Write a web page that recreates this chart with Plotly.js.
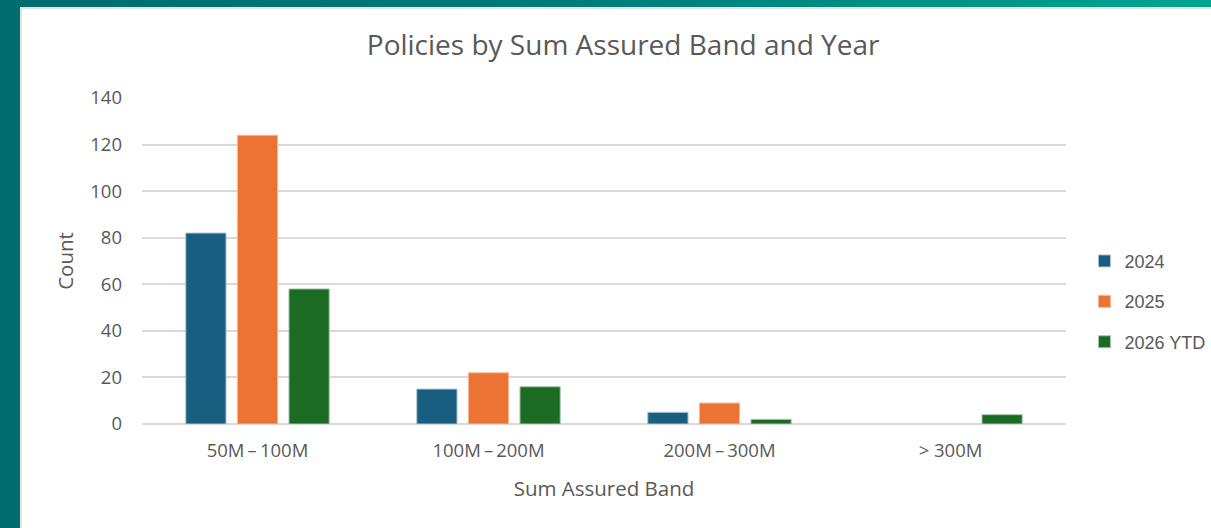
<!DOCTYPE html>
<html>
<head>
<meta charset="utf-8">
<script src="https://cdn.plot.ly/plotly-3.0.1.min.js"></script>
<style>
  html, body { margin: 0; padding: 0; width: 1211px; height: 528px; overflow: hidden; }
  body { background: linear-gradient(90deg, #006c6e 0%, #007a78 45%, #00a590 100%); position: relative; }
  #panel { position: absolute; left: 20px; top: 7px; width: 1191px; height: 521px; background: #ffffff;
           border-left: 2px solid #e3e3e3; border-top: 2px solid #e3e3e3; box-sizing: border-box; }
  #chart { position: absolute; left: 21px; top: 9px; width: 1190px; height: 519px; }
</style>
</head>
<body>
<div id="panel"></div>
<div id="chart"></div>
<script>
// Sum assured bands on the category axis
const bands = ["50M\u2009\u2013\u2009100M", "100M\u2009\u2013\u2009200M", "200M\u2009\u2013\u2009300M", "> 300M"];

// Policy counts per band
const count2024 = [82, 15, 5, 0];
const count2025 = [124, 22, 9, 0];
const count2026ytd = [58, 16, 2, 4];

const seriesNames = ["2024", "2025", "2026 YTD"];
const seriesColors = ["#175e80", "#eb7434", "#1c6b24"];
const seriesEdges = ["#a9c3d2", "#f6b996", "#a7c6aa"];
const seriesValues = [count2024, count2025, count2026ytd];

const traces = seriesValues.map((vals, i) => ({
  type: "bar",
  name: seriesNames[i],
  legendgroup: "g" + i,
  x: bands,
  y: vals,
  marker: {
    color: seriesColors[i],
    // no outline on empty bars, so a zero count leaves nothing on the baseline
    line: { color: seriesEdges[i], width: vals.map(v => (v > 0 ? 1 : 0)) }
  },
  hoverinfo: "x+y+name"
}));

const uiFont = "'Open Sans', 'Noto Sans', sans-serif";
const axisFont = { family: uiFont, size: 18.5, color: "#595959" };

const layout = {
  width: 1190,
  height: 519,
  margin: { l: 121, r: 145, t: 89, b: 104, autoexpand: false },
  paper_bgcolor: "rgba(0,0,0,0)",
  plot_bgcolor: "#ffffff",
  title: {
    text: "Policies by Sum Assured Band and Year",
    font: { family: uiFont, size: 28, color: "#595959" },
    x: 0.506, xanchor: "center", xref: "container",
    y: 1, yref: "container", yanchor: "top", pad: { t: 26 }
  },
  barmode: "group",
  bargap: 0.33,
  bargroupgap: 0.22,
  xaxis: {
    type: "category",
    showgrid: false,
    showline: false,
    zeroline: false,
    ticks: "",
    ticklabelstandoff: 13,
    tickfont: axisFont,
    title: { text: "Sum Assured Band", font: { family: uiFont, size: 20.5, color: "#595959" }, standoff: 21 },
    fixedrange: true
  },
  yaxis: {
    range: [0, 140],
    tickvals: [0, 20, 40, 60, 80, 100, 120, 140],
    showgrid: true,
    gridcolor: "#d9d9d9",
    gridwidth: 1.5,
    zeroline: true,
    zerolinecolor: "#d9d9d9",
    zerolinewidth: 1.5,
    showline: false,
    ticks: "",
    ticklabelstandoff: 19,
    tickfont: axisFont,
    title: { text: "Count", font: { family: uiFont, size: 20.5, color: "#595959" }, standoff: 11 },
    fixedrange: true
  },
  showlegend: true,
  legend: {
    x: 1.02, xanchor: "left",
    y: 0.375, yanchor: "middle",
    traceorder: "grouped",
    tracegroupgap: 14,
    font: { family: "'Liberation Sans', Arial, sans-serif", size: 18, color: "#595959" },
    bgcolor: "rgba(0,0,0,0)"
  }
};

Plotly.newPlot("chart", traces, layout, { displayModeBar: false });
</script>
</body>
</html>
